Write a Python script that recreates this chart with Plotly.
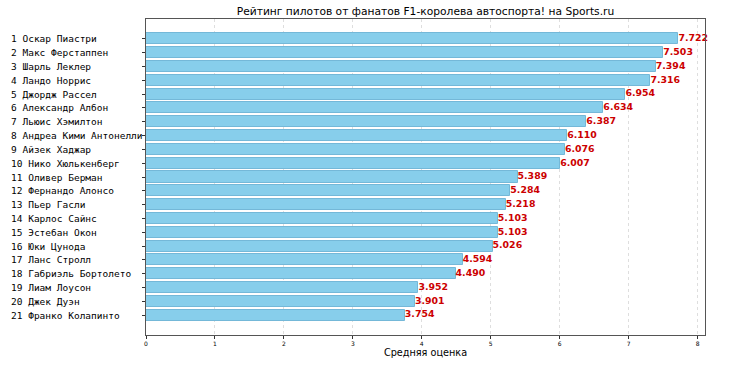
import plotly.graph_objects as go

names = [
    "1 Оскар Пиастри", "2 Макс Ферстаппен", "3 Шарль Леклер", "4 Ландо Норрис",
    "5 Джордж Рассел", "6 Александр Албон", "7 Льюис Хэмилтон",
    "8 Андреа Кими Антонелли", "9 Айзек Хаджар", "10 Нико Хюлькенберг",
    "11 Оливер Берман", "12 Фернандо Алонсо", "13 Пьер Гасли", "14 Карлос Сайнс",
    "15 Эстебан Окон", "16 Юки Цунода", "17 Ланс Стролл", "18 Габриэль Бортолето",
    "19 Лиам Лоусон", "20 Джек Дуэн", "21 Франко Колапинто",
]
scores = [7.722, 7.503, 7.394, 7.316, 6.954, 6.634, 6.387, 6.110, 6.076, 6.007,
          5.389, 5.284, 5.218, 5.103, 5.103, 5.026, 4.594, 4.490, 3.952, 3.901, 3.754]
x_ticks = [0, 1, 2, 3, 4, 5, 6, 7, 8]

pos = list(range(len(names)))
n = len(names)

fig = go.Figure()
fig.add_trace(go.Bar(
    x=scores, y=pos, orientation="h", width=0.8,
    marker=dict(color="#87CEEB", line=dict(color="#74b8d8", width=1)),
    hoverinfo="skip",
))
fig.add_trace(go.Scatter(
    x=scores, y=pos, mode="text",
    text=[f"{v:.3f}" for v in scores],
    textposition="middle right",
    textfont=dict(family="DejaVu Sans", size=9.4, color="#cc0000", weight="bold"),
    cliponaxis=False, hoverinfo="skip",
))

# left-aligned category labels
for p, name in zip(pos, names):
    fig.add_annotation(
        x=0, xref="paper", y=p, yref="y",
        text=name, showarrow=False, xanchor="left", yanchor="middle",
        xshift=-137,
        font=dict(family="DejaVu Sans Mono", size=9.5, color="black"),
    )

xmax = max(scores) * 1.05
lo = -0.4 - 0.05 * (n - 1 + 0.8)
hi = n - 1 + 0.4 + 0.05 * (n - 1 + 0.8)

fig.update_layout(
    width=730, height=365,
    margin=dict(l=146, r=25, t=19, b=30, autoexpand=False),
    paper_bgcolor="white", plot_bgcolor="white",
    showlegend=False,
    bargap=0,
    title=dict(text="Рейтинг пилотов от фанатов F1-королева автоспорта! на Sports.ru",
               x=(146 + 705) / 2 / 730, xanchor="center", y=1 - 11 / 365, yanchor="middle",
               font=dict(family="DejaVu Sans", size=10.7, color="black")),
    font=dict(family="DejaVu Sans", color="black"),
)
fig.update_xaxes(
    range=[0, xmax], tickvals=x_ticks, ticktext=[str(t) for t in x_ticks],
    tickfont=dict(size=6, family="DejaVu Sans"),
    ticks="outside", ticklen=3, tickcolor="#333",
    showgrid=True, gridcolor="rgba(200,200,200,0.6)", griddash="dot", gridwidth=1,
    layer="above traces",
    showline=True, linecolor="#555", linewidth=1, mirror=True,
    zeroline=False, automargin=False,
    title=dict(text="Средняя оценка", font=dict(size=9.7, family="DejaVu Sans"), standoff=3),
)
fig.update_yaxes(
    range=[hi, lo], tickvals=pos, ticktext=["" for _ in names],
    ticks="outside", ticklen=3, tickcolor="#333",
    showgrid=False, automargin=False,
    showline=True, linecolor="#555", linewidth=1, mirror=True,
    zeroline=False,
)

fig.write_html("out.html", config={"displayModeBar": False},
               post_script="document.body.style.margin='0';")
